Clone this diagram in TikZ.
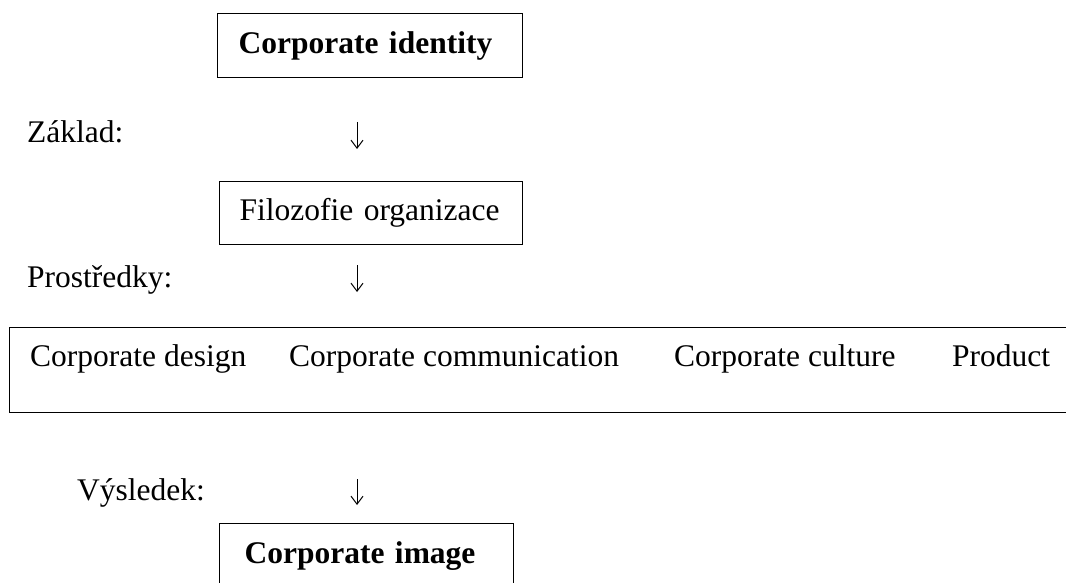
\documentclass[tikz,border=0pt]{standalone}
\usepackage{fontspec}
\setmainfont{Liberation Serif}
\usetikzlibrary{arrows.meta}
\begin{document}
\begin{tikzpicture}[x=1pt,y=-1pt,
  every node/.style={font=\fontsize{31.5}{38}\selectfont},
  lbl/.style={anchor=base west,inner sep=0pt},
  arrline/.style={line width=1pt,-{Straight Barb[length=8pt,width=12pt,line width=1pt]}},
  boxnode/.style={draw,line width=1.1pt,anchor=north west,align=left,inner ysep=0pt},
]
\useasboundingbox (0,0) rectangle (1066,583);
% top box
\node[boxnode,inner xsep=21pt,text width=263pt,minimum height=64pt] (ci) at (217,13) {\textbf{Corporate identity}};
\node[lbl] (zaklad) at (27,143) {Základ:};
\coordinate (a1s) at (357,122);
\coordinate (a1e) at (357,149);
\draw[arrline] (a1s) -- (a1e);
% philosophy box
\node[boxnode,inner xsep=20pt,text width=263pt,minimum height=63pt] (fo) at (219,181) {Filozofie organizace};
\node[lbl] (prostr) at (27,287) {Prostředky:};
\coordinate (a2s) at (357,265);
\coordinate (a2e) at (357,292);
\draw[arrline] (a2s) -- (a2e);
% means box (right side runs off the page)
\node[draw,line width=1.1pt,anchor=north west,minimum width=1100pt,minimum height=85pt,inner sep=0pt] (means) at (9,327) {};
\node[lbl] (design) at (30,366) {Corporate design};
\node[lbl] (comm) at (289,366) {Corporate communication};
\node[lbl] (culture) at (674,366) {Corporate culture};
\node[lbl] (product) at (952,366) {Product};
\node[lbl] (vysl) at (77,500) {Výsledek:};
\coordinate (a3s) at (357,479);
\coordinate (a3e) at (357,505);
\draw[arrline] (a3s) -- (a3e);
% bottom box (bottom edge runs off the page)
\node[boxnode,inner xsep=25pt,text width=244pt,minimum height=64pt] (cim) at (219,523) {\textbf{Corporate image}};
\end{tikzpicture}
\end{document}
